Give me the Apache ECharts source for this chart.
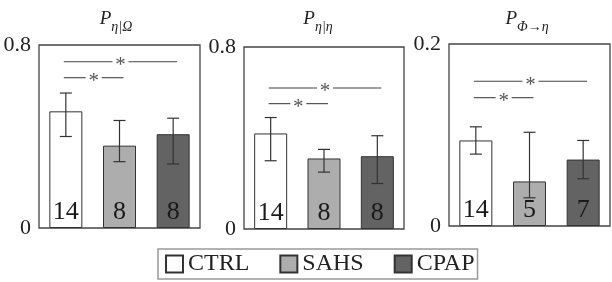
<!DOCTYPE html>
<html>
<head>
<meta charset="utf-8">
<script src="https://cdn.jsdelivr.net/npm/echarts@6/dist/echarts.min.js"></script>
<style>
  html, body { margin: 0; padding: 0; background: #fff; }
  #chart { width: 612px; height: 282px; }
</style>
</head>
<body>
<div id="chart"></div>
<script>
// groups and colours
const categories = ['CTRL', 'SAHS', 'CPAP'];
const barColors = ['#ffffff', '#adadad', '#636363'];

// P eta|Omega
const p1Mean = [0.51, 0.36, 0.41];
const p1Low = [0.40, 0.29, 0.28];
const p1High = [0.59, 0.47, 0.48];
const p1Count = [14, 8, 8];
const p1Sig = [[0, 2, 0.727], [0, 1, 0.657]];

// P eta|eta
const p2Mean = [0.42, 0.31, 0.32];
const p2Low = [0.30, 0.25, 0.20];
const p2High = [0.49, 0.35, 0.41];
const p2Count = [14, 8, 8];
const p2Sig = [[0, 2, 0.62], [0, 1, 0.551]];

// P Phi->eta
const p3Mean = [0.094, 0.049, 0.073];
const p3Low = [0.079, 0.031, 0.052];
const p3High = [0.109, 0.103, 0.094];
const p3Count = [14, 5, 7];
const p3Sig = [[0, 2, 0.159], [0, 1, 0.141]];

const yMax = [0.8, 0.8, 0.2];
const titleSubs = ['η|Ω', 'η|η', 'Φ→η'];

const panels = [
  { mean: p1Mean, low: p1Low, high: p1High, count: p1Count, sig: p1Sig },
  { mean: p2Mean, low: p2Low, high: p2High, count: p2Count, sig: p2Sig },
  { mean: p3Mean, low: p3Low, high: p3High, count: p3Count, sig: p3Sig }
];

const serif = "'Liberation Serif', 'Times New Roman', serif";
const grids = [
  { left: 39, top: 45, width: 161, height: 183 },
  { left: 244, top: 47, width: 160, height: 182 },
  { left: 449, top: 44, width: 161, height: 182 }
];
const titleX = [116, 318, 527];

const chart = echarts.init(document.getElementById('chart'));

let series = [];
panels.forEach(function (pn, p) {
  categories.forEach(function (name, i) {
    series.push({
      name: name,
      type: 'bar',
      xAxisIndex: p,
      yAxisIndex: p,
      stack: 'panel' + p,
      barWidth: 33,
      data: pn.mean.map(function (v, j) { return j === i ? v : '-'; }),
      itemStyle: { color: barColors[i], borderColor: '#333', borderWidth: 1 },
      label: {
        show: true,
        position: 'insideBottom',
        distance: 3,
        formatter: function (params) { return pn.count[params.dataIndex]; },
        fontFamily: serif,
        fontSize: 26,
        color: '#1a1a1a'
      }
    });
  });
  // error bars
  series.push({
    type: 'custom',
    xAxisIndex: p,
    yAxisIndex: p,
    z: 5,
    data: pn.mean.map(function (v, j) { return [j, pn.low[j], pn.high[j]]; }),
    encode: { x: 0, y: [1, 2] },
    renderItem: function (params, api) {
      const lo = api.coord([api.value(0), api.value(1)]);
      const hi = api.coord([api.value(0), api.value(2)]);
      const hw = 6;
      const st = { stroke: '#333', lineWidth: 1.2 };
      return {
        type: 'group',
        children: [
          { type: 'line', shape: { x1: lo[0], y1: lo[1], x2: hi[0], y2: hi[1] }, style: st },
          { type: 'line', shape: { x1: hi[0] - hw, y1: hi[1], x2: hi[0] + hw, y2: hi[1] }, style: st },
          { type: 'line', shape: { x1: lo[0] - hw, y1: lo[1], x2: lo[0] + hw, y2: lo[1] }, style: st }
        ]
      };
    }
  });
  // significance brackets
  series.push({
    type: 'custom',
    xAxisIndex: p,
    yAxisIndex: p,
    z: 5,
    data: pn.sig,
    encode: { x: [0, 1], y: 2 },
    renderItem: function (params, api) {
      const a = api.coord([api.value(0), api.value(2)]);
      const b = api.coord([api.value(1), api.value(2)]);
      const x0 = a[0] - 2, x1 = b[0] + 4, y = a[1];
      const mid = (x0 + x1) / 2;
      const gap = 8;
      const st = { stroke: '#444', lineWidth: 1.1 };
      return {
        type: 'group',
        children: [
          { type: 'line', shape: { x1: x0, y1: y, x2: mid - gap, y2: y }, style: st },
          { type: 'line', shape: { x1: mid + gap, y1: y, x2: x1, y2: y }, style: st },
          { type: 'text', x: mid, y: y + 4, style: { text: '*', fill: '#555', font: '21px ' + serif, align: 'center', verticalAlign: 'middle' } }
        ]
      };
    }
  });
});

chart.setOption({
  animation: false,
  backgroundColor: '#fff',
  title: titleSubs.map(function (sub, p) {
    return {
      text: '{p|P}{s|' + sub + '}',
      left: titleX[p],
      top: 9,
      textAlign: 'center',
      padding: 0,
      textStyle: {
        fontWeight: 'normal',
        rich: {
          p: { fontFamily: serif, fontStyle: 'italic', fontWeight: 'normal', fontSize: 19, color: '#222', verticalAlign: 'top', lineHeight: 25 },
          s: { fontFamily: serif, fontStyle: 'italic', fontWeight: 'normal', fontSize: 14, color: '#222', verticalAlign: 'bottom', lineHeight: 25 }
        }
      }
    };
  }),
  legend: {
    data: categories,
    left: 158,
    top: 249,
    icon: 'rect',
    itemWidth: 17,
    itemHeight: 17,
    itemGap: 30,
    padding: [3, 3, 3, 7],
    borderColor: '#999',
    borderWidth: 1.5,
    textStyle: { fontFamily: serif, fontSize: 24, color: '#222', padding: [2, 0, 0, 0] }
  },
  grid: grids.map(function (g) {
    return Object.assign({ show: true, borderColor: '#444', borderWidth: 1.3, backgroundColor: 'transparent' }, g);
  }),
  xAxis: panels.map(function (pn, p) {
    return {
      type: 'category',
      gridIndex: p,
      data: categories,
      axisLine: { show: false },
      axisTick: { show: false },
      axisLabel: { show: false }
    };
  }),
  yAxis: panels.map(function (pn, p) {
    return {
      type: 'value',
      gridIndex: p,
      min: 0,
      max: yMax[p],
      interval: yMax[p],
      splitLine: { show: false },
      axisLine: { show: false },
      axisTick: { show: false },
      axisLabel: { margin: 8, fontFamily: serif, fontSize: 22, color: '#222' }
    };
  }),
  series: series
});
</script>
</body>
</html>
